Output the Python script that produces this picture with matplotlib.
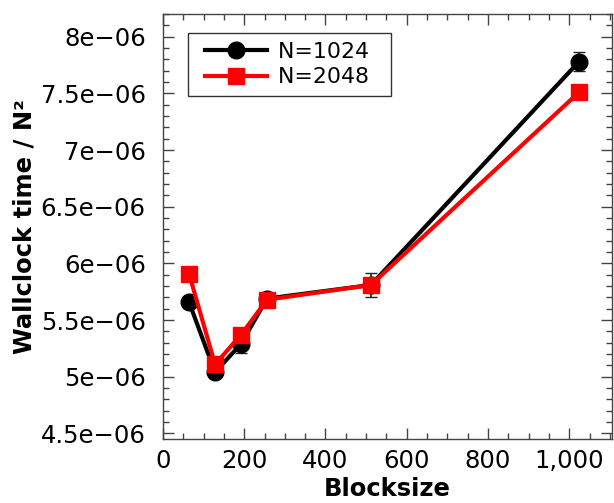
import matplotlib
matplotlib.use('Agg')
import matplotlib.pyplot as plt
from matplotlib.legend_handler import HandlerLine2D
from matplotlib.ticker import FuncFormatter, MultipleLocator

blocksize = [64, 128, 192, 256, 512, 1024]
t_1024 = [5.66e-6, 5.04e-6, 5.29e-6, 5.69e-6, 5.81e-6, 7.78e-6]
err_1024 = [0.02e-6, 0.02e-6, 0.08e-6, 0.04e-6, 0.105e-6, 0.085e-6]
t_2048 = [5.91e-6, 5.11e-6, 5.37e-6, 5.68e-6, 5.81e-6, 7.51e-6]
err_2048 = [0.01e-6, 0.01e-6, 0.01e-6, 0.01e-6, 0.01e-6, 0.01e-6]
labels = ['N=1024', 'N=2048']

fig = plt.figure(figsize=(6.14, 5.03), dpi=100)
ax = fig.add_axes([0.2655, 0.127, 0.731, 0.845])

c1 = ax.errorbar(blocksize, t_1024, yerr=err_1024, color='black', marker='o',
                 markersize=12, lw=3, ecolor='#222222', elinewidth=1.2, capsize=4,
                 zorder=3)
c2 = ax.errorbar(blocksize, t_2048, yerr=err_2048, color='red', marker='s',
                 markersize=12, lw=3, ecolor='#222222', elinewidth=1.2, capsize=4,
                 zorder=4)

ax.set_xlim(0, 1105)
ax.set_ylim(4.45e-6, 8.2e-6)
ax.xaxis.set_major_locator(MultipleLocator(200))
ax.xaxis.set_minor_locator(MultipleLocator(50))
ax.yaxis.set_major_locator(MultipleLocator(0.5e-6))
ax.yaxis.set_minor_locator(MultipleLocator(0.1e-6))
ax.xaxis.set_major_formatter(FuncFormatter(lambda v, p: '{:,.0f}'.format(v)))
ax.yaxis.set_major_formatter(
    FuncFormatter(lambda v, p: '{:g}'.format(round(v * 1e7, 3) / 1e7).replace('-', '\u2212')))

ax.tick_params(which='both', direction='in', top=True, right=True,
               labelsize=17.5, color='#444444')
ax.tick_params(axis='x', pad=7)
ax.tick_params(axis='y', pad=12.5)
ax.tick_params(which='major', length=8, width=1)
ax.tick_params(which='minor', length=4, width=1)
for s in ax.spines.values():
    s.set_color('#444444')
    s.set_linewidth(1)

ax.set_xlabel('Blocksize', fontsize=17.5, fontweight='bold', labelpad=3)
ax.set_ylabel('Wallclock time / N\u00b2', fontsize=17.5, fontweight='bold', labelpad=3)

# legend: line+marker only, with a bit of space around the handles
hmap = {c1[0]: HandlerLine2D(xpad=0.37), c2[0]: HandlerLine2D(xpad=0.37)}
leg = ax.legend([c1[0], c2[0]], [l + '  ' for l in labels], loc='upper left',
                fontsize=15.8, fancybox=False, edgecolor='black',
                handlelength=3.2, handletextpad=0.5, borderpad=0.4,
                labelspacing=0.25, borderaxespad=0, handler_map=hmap,
                bbox_to_anchor=(0.055, 0.955))
leg.get_frame().set_linewidth(1)

fig.savefig('out.png', dpi=100)
